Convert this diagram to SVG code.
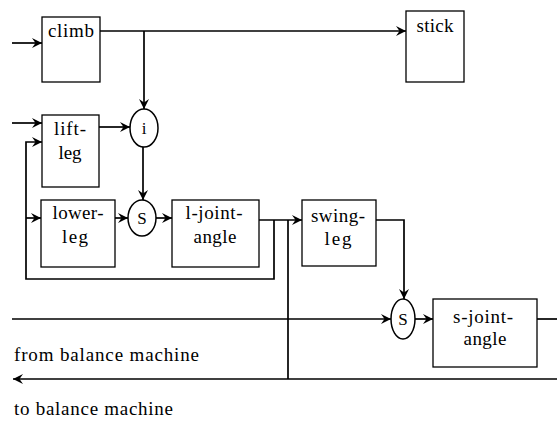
<svg xmlns="http://www.w3.org/2000/svg" width="557" height="422" viewBox="0 0 557 422">
<style>
.box{fill:#fff;stroke:#000;stroke-width:1.3}
.el{fill:#fff;stroke:#000;stroke-width:1.5}
.c{fill:none;stroke:#000;stroke-width:1.7}
.t{font-family:"Liberation Serif","Times New Roman",serif;font-size:19px;fill:#000}
.m{text-anchor:middle}
.s{font-size:17px;text-anchor:middle}
</style>
<defs>
<marker id="ah" viewBox="0 0 10 10" refX="10" refY="5" markerWidth="11" markerHeight="10" markerUnits="userSpaceOnUse" orient="auto">
<path d="M0,0 L10,5 L0,10 L3.5,5 z" fill="#000"/>
</marker>
</defs>
<rect width="557" height="422" fill="#fff"/>
<g id="connectors">
<path class="c" d="M12,43 H42" marker-end="url(#ah)"/>
<path class="c" d="M12,123 H42" marker-end="url(#ah)"/>
<path class="c" d="M100,31 H406" marker-end="url(#ah)"/>
<path class="c" d="M144,31 V109" marker-end="url(#ah)"/>
<path class="c" d="M99,127 H130" marker-end="url(#ah)"/>
<path class="c" d="M143,147 V200" marker-end="url(#ah)"/>
<path class="c" d="M115,218 H128" marker-end="url(#ah)"/>
<path class="c" d="M156,218 H172" marker-end="url(#ah)"/>
<path class="c" d="M259,220 H302" marker-end="url(#ah)"/>
<path class="c" d="M274,220 V279 H26 V142 H42" marker-end="url(#ah)"/>
<path class="c" d="M26,218 H41" marker-end="url(#ah)"/>
<path class="c" d="M376,220 H404 V299" marker-end="url(#ah)"/>
<path class="c" d="M12,319 H391" marker-end="url(#ah)"/>
<path class="c" d="M415,319 H433" marker-end="url(#ah)"/>
<path class="c" d="M537,319 H557"/>
<path class="c" d="M557,379 H13" marker-end="url(#ah)"/>
<path class="c" d="M288,220 V379"/>
</g>
<g id="climb"><rect class="box" x="42" y="17" width="58" height="65"/><text class="t m" x="71" y="37" textLength="46">climb</text></g>
<g id="stick"><rect class="box" x="406" y="11" width="58" height="71"/><text class="t m" x="435" y="32" textLength="37">stick</text></g>
<g id="lift-leg"><rect class="box" x="42" y="115" width="57" height="72"/><text class="t m" x="70" y="135" textLength="32">lift-</text><text class="t m" x="70" y="159" textLength="23">leg</text></g>
<g id="lower-leg"><rect class="box" x="41" y="200" width="74" height="67"/><text class="t m" x="78" y="219" textLength="51">lower-</text><text class="t m" x="75" y="243" textLength="26">leg</text></g>
<g id="l-joint-angle"><rect class="box" x="172" y="200" width="87" height="67"/><text class="t m" x="214" y="219" textLength="57">l-joint-</text><text class="t m" x="215" y="243" textLength="43">angle</text></g>
<g id="swing-leg"><rect class="box" x="302" y="200" width="74" height="66"/><text class="t m" x="338" y="222" textLength="54">swing-</text><text class="t m" x="338" y="245" textLength="27">leg</text></g>
<g id="s-joint-angle"><rect class="box" x="433" y="299" width="104" height="68"/><text class="t m" x="483" y="323" textLength="60">s-joint-</text><text class="t m" x="485" y="345" textLength="43">angle</text></g>
<g id="junction-i"><ellipse class="el" cx="144" cy="128" rx="14" ry="19"/><text class="t s" x="144" y="134">i</text></g>
<g id="junction-s1"><ellipse class="el" cx="142" cy="218" rx="14" ry="18"/><text class="t s" x="142" y="224">S</text></g>
<g id="junction-s2"><ellipse class="el" cx="403" cy="319" rx="12" ry="20"/><text class="t s" x="403" y="325">S</text></g>
<g id="labels">
<text class="t" x="14" y="361" textLength="185">from balance machine</text>
<text class="t" x="14" y="415" textLength="159">to balance machine</text>
</g>
</svg>
